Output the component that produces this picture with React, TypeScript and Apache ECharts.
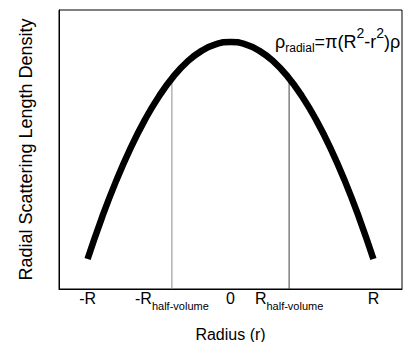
import React, { useEffect, useRef } from "react";
import * as echarts from "echarts";

// Curve (radius in units of R, density normalised to peak)
const radius = [-1, -0.9, -0.8, -0.7, -0.6, -0.5, -0.4, -0.3, -0.2, -0.1, 0, 0.1, 0.2, 0.3, 0.4, 0.5, 0.6, 0.7, 0.8, 0.9, 1];
const density = [0, 0.19, 0.36, 0.51, 0.64, 0.75, 0.84, 0.91, 0.96, 0.99, 1, 0.99, 0.96, 0.91, 0.84, 0.75, 0.64, 0.51, 0.36, 0.19, 0];

// Half-volume markers
const halfVolumeX = [-0.41, 0.41];
const halfVolumeTop = [0.83, 0.83];
const halfVolumeColors = ["#8c8c8c", "#404040"];

// Tick positions and labels
const tickValues = [-1, -0.41, 0, 0.41, 1];
const tickLabels = ["{m|-R}", "{m|-R}{sub|half-volume}", "{m|0}", "{m|R}{sub|half-volume}", "{m|R}"];

const X_MIN = -1.2;
const X_MAX = 1.2;
const Y_MIN = -0.138;
const Y_MAX = 1.147;

const FONT = "'Liberation Sans', Arial, Helvetica, sans-serif";

export default function App() {
  const ref = useRef<HTMLDivElement>(null);

  useEffect(() => {
    if (!ref.current) return;
    const chart = echarts.init(ref.current, null, { renderer: "svg" });

    const curveData = radius.map((x, i) => [x, density[i]]);
    const halfSeries = halfVolumeX.map((x, i) => ({
      type: "line",
      data: [
        [x, Y_MIN],
        [x, halfVolumeTop[i]],
      ],
      showSymbol: false,
      silent: true,
      lineStyle: { color: halfVolumeColors[i], width: 1 },
      z: 1,
    }));

    chart.setOption({
      animation: false,
      textStyle: { fontFamily: FONT },
      grid: {
        left: 59,
        top: 10,
        right: 2,
        bottom: 53,
        containLabel: false,
        outerBoundsMode: "none",
        show: true,
        borderColor: "#000",
        borderWidth: 1,
        backgroundColor: "#fff",
      },
      xAxis: {
        type: "value",
        min: X_MIN,
        max: X_MAX,
        name: "Radius (r)",
        nameLocation: "middle",
        nameGap: 37,
        nameTextStyle: { fontSize: 16, color: "#000", fontFamily: FONT },
        axisLine: { show: true, onZero: false, lineStyle: { color: "#000", width: 1 } },
        axisTick: { show: false },
        splitLine: { show: false },
        axisLabel: {
          customValues: tickValues,
          margin: 0,
          color: "#000",
          formatter: (v: number) => {
            const idx = tickValues.findIndex((t) => Math.abs(t - v) < 1e-6);
            return idx >= 0 ? tickLabels[idx] : "";
          },
          rich: {
            m: { fontSize: 16, lineHeight: 18, color: "#000", fontFamily: FONT },
            sub: {
              fontSize: 11,
              lineHeight: 18,
              verticalAlign: "middle",
              padding: [15, 0, 0, 0],
              color: "#000",
              fontFamily: FONT,
            },
          },
        },
      },
      yAxis: {
        type: "value",
        min: Y_MIN,
        max: Y_MAX,
        name: "Radial Scattering Length Density",
        nameLocation: "middle",
        nameGap: 24,
        nameTextStyle: { fontSize: 18, color: "#000", fontFamily: FONT },
        axisLine: { show: true, onZero: false, lineStyle: { color: "#000", width: 1 } },
        axisTick: { show: false },
        axisLabel: { show: false },
        splitLine: { show: false },
      },
      graphic: [
        {
          type: "text",
          x: 275,
          y: 30,
          z: 10,
          style: {
            text: "{m|ρ}{sub|radial}{m|=π(R}{sup|2}{m|-r}{sup|2}{m|)ρ}",
            verticalAlign: "top",
            align: "left",
            rich: {
              m: { fontSize: 18, lineHeight: 24, fill: "#000", fontFamily: FONT },
              sub: {
                fontSize: 12,
                lineHeight: 24,
                verticalAlign: "middle",
                padding: [11, 0, 0, 0],
                fill: "#000",
                fontFamily: FONT,
              },
              sup: {
                fontSize: 14,
                lineHeight: 24,
                verticalAlign: "middle",
                padding: [0, 0, 18, 0],
                fill: "#000",
                fontFamily: FONT,
              },
            },
          },
        },
      ],
      series: [
        ...halfSeries,
        {
          type: "line",
          data: curveData,
          smooth: true,
          showSymbol: false,
          silent: true,
          lineStyle: { color: "#000", width: 6.5, cap: "butt" },
          z: 3,
        },
      ],
    });

    return () => chart.dispose();
  }, []);

  return (
    <div
      ref={ref}
      style={{ position: "fixed", left: 0, top: 0, width: 404, height: 342, background: "#fff" }}
    />
  );
}
